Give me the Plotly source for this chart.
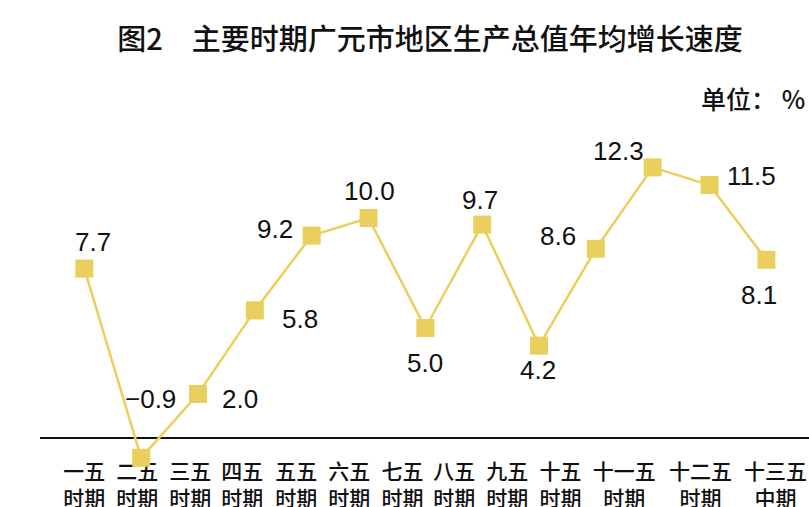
import plotly.graph_objects as go

periods_line1 = ["一五", "二五", "三五", "四五", "五五", "六五", "七五", "八五", "九五", "十五", "十一五", "十二五", "十三五"]
periods_line2 = ["时期"] * 12 + ["中期"]
growth = [7.7, -0.9, 2.0, 5.8, 9.2, 10.0, 5.0, 9.7, 4.2, 8.6, 12.3, 11.5, 8.1]
value_labels = ["7.7", "−0.9", "2.0", "5.8", "9.2", "10.0", "5.0", "9.7", "4.2", "8.6", "12.3", "11.5", "8.1"]

categories = [f"{a}<br>{b}" for a, b in zip(periods_line1, periods_line2)]

# style: value-label offsets in pixels, tick-label shifts in category units
label_dx = [9, 9, 42, 45, -37, 1, 0, -2, -1, -38, -34, 42, -7]
label_dy = [-27, -59, 5, 9, -7, -27, 35, -25, 24, -13, -16, -9, 35]
tick_shift = [0.0, -0.07, -0.135, -0.22, -0.27, -0.34, -0.40, -0.49, -0.56, -0.62, -0.50, -0.16, 0.16]

LINE_COLOR = "#EBCF5C"
NUM_FONT = "Liberation Sans, Arial, sans-serif"
CJK_FONT = "Noto Sans CJK SC, sans-serif"

xs = list(range(len(categories)))

fig = go.Figure()
fig.add_trace(go.Scatter(
    x=xs,
    y=growth,
    mode="lines+markers",
    line=dict(color=LINE_COLOR, width=2.5),
    marker=dict(symbol="square", size=18, color=LINE_COLOR),
    cliponaxis=False,
    hoverinfo="skip",
    showlegend=False,
))

for i, (v, t) in enumerate(zip(growth, value_labels)):
    fig.add_annotation(
        x=i, y=v, xref="x", yref="y", text=t, showarrow=False,
        xshift=label_dx[i], yshift=-label_dy[i],
        font=dict(family=NUM_FONT, size=26, color="#111111"),
    )

fig.add_annotation(
    x=0.997, y=1.164, xref="paper", yref="paper", text="单位： %",
    showarrow=False, xanchor="right", yanchor="middle",
    font=dict(family=CJK_FONT, size=25, color="#111111", weight=500),
)

fig.update_layout(
    width=809, height=507,
    margin=dict(l=40, r=0, t=152, b=25, autoexpand=False),
    paper_bgcolor="white", plot_bgcolor="white",
    title=dict(
        text="图2　主要时期广元市地区生产总值年均增长速度",
        x=430 / 809, xref="container", xanchor="center",
        y=1 - 40 / 507, yref="container", yanchor="middle",
        font=dict(family=CJK_FONT, size=29, color="#111111", weight=500),
    ),
    xaxis=dict(
        range=[-0.78, 12.75],
        tickmode="array",
        tickvals=[i + s for i, s in zip(xs, tick_shift)],
        ticktext=categories,
        tickangle=0,
        automargin=False,
        showgrid=False, zeroline=False,
        showline=True, linecolor="#111111", linewidth=1.5,
        ticks="", ticklabelstandoff=15,
        anchor="free", position=2 / 15,
        tickfont=dict(family=CJK_FONT, size=21, color="#111111", weight=500),
        layer="below traces",
        fixedrange=True,
    ),
    yaxis=dict(
        range=[-2, 13],
        visible=False, showgrid=False, zeroline=False,
        automargin=False,
        fixedrange=True,
    ),
)

fig.write_html(
    "out.html",
    config={"displayModeBar": False},
    post_script="document.body.style.margin='0';document.body.style.overflow='hidden';",
)
